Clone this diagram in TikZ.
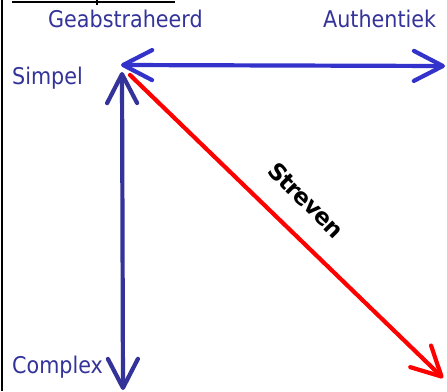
\documentclass[tikz,border=0pt]{standalone}
\usepackage{fontspec}
\setmainfont{DejaVu Sans Condensed}
\newfontfamily\strevenfont[LetterSpace=-4]{DejaVu Sans Bold}
\usetikzlibrary{arrows.meta}
\definecolor{lblblue}{HTML}{333399}
\definecolor{hblue}{HTML}{3333CC}
\definecolor{vblue}{HTML}{333399}
\definecolor{redline}{HTML}{FF0000}
\tikzset{
  lbl/.style={text=lblblue, font=\fontsize{23pt}{26pt}\selectfont, inner sep=0pt},
  barb/.style={-{Straight Barb[length=29pt,width=30pt,round]}},
  dblbarb/.style={{Straight Barb[length=29pt,width=30pt,round]}-{Straight Barb[length=29pt,width=30pt,round]}},
  axis/.style={line width=4.2pt, line cap=round}
}
\begin{document}
\begin{tikzpicture}[x=1pt,y=-1pt]
\useasboundingbox (0,0) rectangle (447,391);
\fill[white] (0,0) rectangle (447,391);
% frame fragments
\draw[line width=1.5pt] (2,0) -- (2,391);
\draw[line width=2pt] (12,2) -- (175,2);
\draw[line width=2pt] (97,0) -- (97,5);
% labels
\node[lbl, anchor=base west] (geab) at (48,27) {Geabstraheerd};
\node[lbl, anchor=base west] (auth) at (323,27) {Authentiek};
\node[lbl, anchor=base west] (simp) at (12,84) {Simpel};
\node[lbl, anchor=base west] (comp) at (12,373) {Complex};
% axis points
\coordinate (hl) at (121,65);
\coordinate (hr) at (445,66);
\coordinate (vt) at (122,72);
\coordinate (vb) at (123,390);
\coordinate (rs) at (130,75);
\coordinate (re) at (443,378);
\draw[axis, hblue, dblbarb] (hl) -- (hr);
\draw[axis, vblue, dblbarb] (vt) -- (vb);
\draw[axis, redline, barb] (rs) -- (re);
\node[font=\strevenfont\fontsize{23pt}{25pt}\selectfont, rotate=-45, inner sep=0pt] (strev) at (306,200) {Streven};
\end{tikzpicture}
\end{document}
